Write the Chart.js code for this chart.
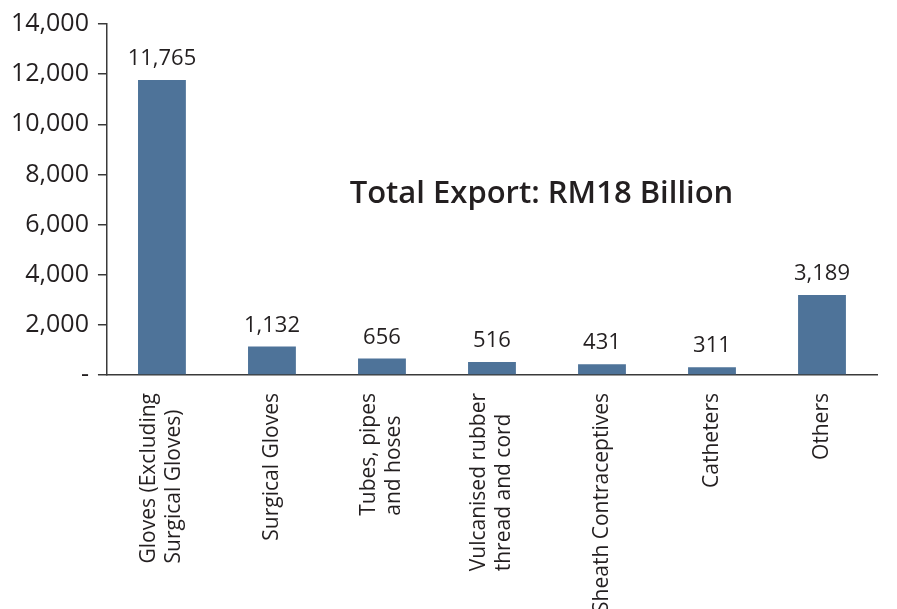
<!DOCTYPE html>
<html>
<head>
<meta charset="utf-8">
<script src="https://cdn.jsdelivr.net/npm/chart.js@4"></script>
<style>
  html, body { margin: 0; padding: 0; background: #fff; }
  #wrap { width: 897px; height: 609px; }
</style>
</head>
<body>
<div id="wrap"><canvas id="barChart" width="897" height="609"></canvas></div>
<script>
    const categories = [
        ['Gloves (Excluding', 'Surgical Gloves)'],
        ['Surgical Gloves'],
        ['Tubes, pipes', 'and hoses'],
        ['Vulcanised rubber', 'thread and cord'],
        ['Sheath Contraceptives'],
        ['Catheters'],
        ['Others']
    ];
    const exportValues = [11765, 1132, 656, 516, 431, 311, 3189];
    const yTicks = [0, 2000, 4000, 6000, 8000, 10000, 12000, 14000];
    const totalLabel = 'Total Export: RM18 Billion';

    const textColor = '#231f20';
    const barColor = '#4e7399';

    // value labels above bars + rotated category labels + total text
    const labelsPlugin = {
        id: 'labelsPlugin',
        afterDatasetsDraw(chart) {
            const ctx = chart.ctx;
            const xs = chart.scales.x, ys = chart.scales.y;
            ctx.save();
            ctx.fillStyle = textColor;

            ctx.font = '22px "Open Sans"';
            ctx.textAlign = 'center';
            ctx.textBaseline = 'bottom';
            chart.getDatasetMeta(0).data.forEach((bar, i) => {
                ctx.fillText(exportValues[i].toLocaleString('en-US'), bar.x, bar.y - 10);
            });

            ctx.font = '21px "Open Sans"';
            ctx.textBaseline = 'middle';
            const top = chart.chartArea.bottom + 18;
            categories.forEach((lines, i) => {
                const cx = xs.getPixelForValue(i);
                const w = Math.max(...lines.map(l => ctx.measureText(l).width));
                const lh = 25;
                ctx.save();
                ctx.translate(cx - (lines.length - 1) * lh / 2, top);
                ctx.rotate(-Math.PI / 2);
                ctx.textAlign = 'left';
                lines.forEach((l, j) => ctx.fillText(l, -w, j * lh));
                ctx.restore();
            });

            ctx.font = '600 31px "Open Sans"';
            ctx.textAlign = 'center';
            ctx.textBaseline = 'middle';
            ctx.fillText(totalLabel, xs.getPixelForValue(3.45), ys.getPixelForValue(7200));
            ctx.restore();
        }
    };

    new Chart(document.getElementById('barChart'), {
        type: 'bar',
        data: {
            labels: categories,
            datasets: [{
                data: exportValues,
                backgroundColor: barColor,
                categoryPercentage: 1,
                barPercentage: 0.435
            }]
        },
        options: {
            responsive: false,
            animation: false,
            layout: { padding: { top: 8, right: 20, bottom: 226, left: 2 } },
            plugins: {
                legend: { display: false },
                tooltip: { enabled: false }
            },
            scales: {
                x: {
                    grid: { display: false },
                    border: { color: '#3a3a3a', width: 1.5 },
                    ticks: { display: false }
                },
                y: {
                    min: 0,
                    max: 14000,
                    afterBuildTicks: (scale) => { scale.ticks = yTicks.map(v => ({ value: v })); },
                    grid: { drawOnChartArea: false, drawTicks: true, tickLength: 9, color: '#3a3a3a', lineWidth: 1.5 },
                    border: { color: '#3a3a3a', width: 1.5 },
                    ticks: {
                        color: textColor,
                        padding: 9,
                        font: { family: 'Open Sans', size: 25 },
                        callback: (v) => v === 0 ? '-' : v.toLocaleString('en-US')
                    }
                }
            }
        },
        plugins: [labelsPlugin]
    });
</script>
</body>
</html>
